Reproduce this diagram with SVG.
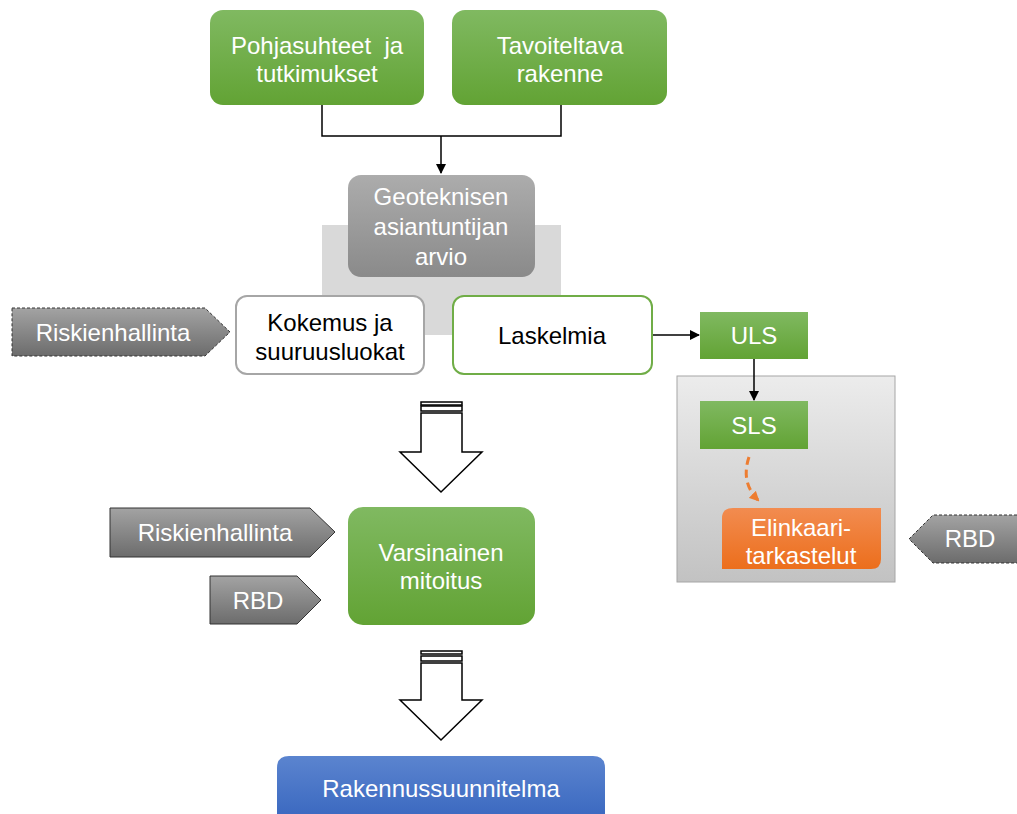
<svg xmlns="http://www.w3.org/2000/svg" width="1017" height="814" viewBox="0 0 1017 814">
<defs>
<linearGradient id="gGreen" x1="0" y1="0" x2="0" y2="1"><stop offset="0" stop-color="#80b961"/><stop offset="1" stop-color="#62a334"/></linearGradient>
<linearGradient id="gGray" x1="0" y1="0" x2="0" y2="1"><stop offset="0" stop-color="#acacac"/><stop offset="1" stop-color="#8a8a8a"/></linearGradient>
<linearGradient id="gTag" x1="0" y1="0" x2="0" y2="1"><stop offset="0" stop-color="#a3a3a3"/><stop offset="1" stop-color="#6c6c6c"/></linearGradient>
<linearGradient id="gOrange" x1="0" y1="0" x2="0" y2="1"><stop offset="0" stop-color="#f28c50"/><stop offset="1" stop-color="#ec6e1c"/></linearGradient>
<linearGradient id="gBlue" x1="0" y1="0" x2="0" y2="1"><stop offset="0" stop-color="#5b84cf"/><stop offset="1" stop-color="#3463bd"/></linearGradient>
<linearGradient id="gCont" x1="0" y1="0" x2="0" y2="1"><stop offset="0" stop-color="#ececec"/><stop offset="1" stop-color="#c2c2c2"/></linearGradient>
<marker id="ah" markerWidth="10" markerHeight="10" refX="9" refY="5" orient="auto" markerUnits="userSpaceOnUse"><path d="M0,0 L10,5 L0,10 z" fill="#000"/></marker>
<marker id="ahO" markerWidth="10" markerHeight="10" refX="8" refY="5" orient="auto" markerUnits="userSpaceOnUse"><path d="M0,0 L10,5 L0,10 z" fill="#ed7d31"/></marker>
</defs>
<style>
text{font-family:"Liberation Sans",Arial,sans-serif;font-size:24px;text-anchor:middle;white-space:pre}
.w{fill:#fff}
.k{fill:#000}
.green{fill:url(#gGreen)}
.tag{fill:url(#gTag);stroke:#333;stroke-width:1}
.dash{stroke-dasharray:3,2}
.conn{fill:none;stroke:#000;stroke-width:1.5}
.big{fill:#fff;stroke:#000;stroke-width:1.5}
</style>
<rect x="322" y="225" width="239" height="110" fill="#d9d9d9"/>
<g id="n-cont"><rect x="677" y="376" width="218" height="206" fill="url(#gCont)" stroke="#a6a6a6" stroke-width="1"/></g>
<g id="connectors">
<path class="conn" d="M322,105 V136 H561 V105"/>
<path class="conn" d="M441,136 V173" marker-end="url(#ah)"/>
<path class="conn" d="M652,335 H699" marker-end="url(#ah)"/>
<path class="conn" d="M754,359 V400" marker-end="url(#ah)"/>
<path d="M749,457 C744,472 745,487 758,500" fill="none" stroke="#ed7d31" stroke-width="3" stroke-dasharray="8,5" marker-end="url(#ahO)"/>
</g>
<g id="n-pohja"><rect x="210" y="10" width="214" height="95" rx="13" class="green"/><text class="w" x="317" y="54" xml:space="preserve">Pohjasuhteet  ja</text><text class="w" x="317" y="82">tutkimukset</text></g>
<g id="n-tavoite"><rect x="452" y="10" width="215" height="95" rx="13" class="green"/><text class="w" x="560" y="54">Tavoiteltava</text><text class="w" x="560" y="82">rakenne</text></g>
<g id="n-geo"><rect x="348" y="175" width="187" height="102" rx="13" fill="url(#gGray)"/><text class="w" x="441" y="205">Geoteknisen</text><text class="w" x="441" y="235">asiantuntijan</text><text class="w" x="441" y="265">arvio</text></g>
<g id="n-kokemus"><rect x="236" y="296" width="188" height="78" rx="11" fill="#fff" stroke="#a6a6a6" stroke-width="2"/><text class="k" x="330" y="331">Kokemus ja</text><text class="k" x="330" y="360">suuruusluokat</text></g>
<g id="n-laskelmia"><rect x="453" y="296" width="199" height="78" rx="11" fill="#fff" stroke="#70ad47" stroke-width="2"/><text class="k" x="552" y="344">Laskelmia</text></g>
<g id="n-risk1"><path class="tag dash" d="M12,308 H205 L230,332 L205,356 H12 Z"/><text class="w" x="113" y="341">Riskienhallinta</text></g>
<g id="n-uls"><rect x="700" y="312" width="108" height="47" class="green"/><text class="w" x="754" y="344">ULS</text></g>
<g id="n-sls"><rect x="700" y="401" width="108" height="48" class="green"/><text class="w" x="754" y="434">SLS</text></g>
<g id="n-elinkaari"><path d="M733,508 H881 V559 Q881,569 871,569 H722 V518 Q722,508 733,508 Z" fill="url(#gOrange)"/><text class="w" x="801" y="536">Elinkaari-</text><text class="w" x="801" y="564">tarkastelut</text></g>
<g id="n-rbd1"><path class="tag dash" d="M1017,515 H933 L909,539 L933,563 H1017" /><text class="w" x="970" y="547">RBD</text></g>
<g id="arrow1"><rect x="421" y="402" width="41" height="3" class="big" stroke-width="1"/><rect x="421" y="406" width="41" height="5" class="big" stroke-width="1"/><path class="big" d="M421,413 H462 V452 H482 L441,492 L400,452 H421 Z"/></g>
<g id="n-risk2"><path class="tag" d="M110,508 H310 L335,532 L310,557 H110 Z"/><text class="w" x="215" y="541">Riskienhallinta</text></g>
<g id="n-rbd2"><path class="tag" d="M210,576 H297 L321,600 L297,624 H210 Z"/><text class="w" x="258" y="609">RBD</text></g>
<g id="n-varsinainen"><rect x="348" y="507" width="187" height="118" rx="15" class="green"/><text class="w" x="441" y="561">Varsinainen</text><text class="w" x="441" y="589">mitoitus</text></g>
<g id="arrow2"><rect x="421" y="651" width="41" height="3" class="big" stroke-width="1"/><rect x="421" y="656" width="41" height="5" class="big" stroke-width="1"/><path class="big" d="M421,663 H462 V700 H482 L441,740 L400,700 H421 Z"/></g>
<g id="n-rakennus"><path d="M277,830 V768 Q277,756 289,756 H593 Q605,756 605,768 V830 Z" fill="url(#gBlue)"/><text class="w" x="441" y="797">Rakennussuunnitelma</text></g>
</svg>
